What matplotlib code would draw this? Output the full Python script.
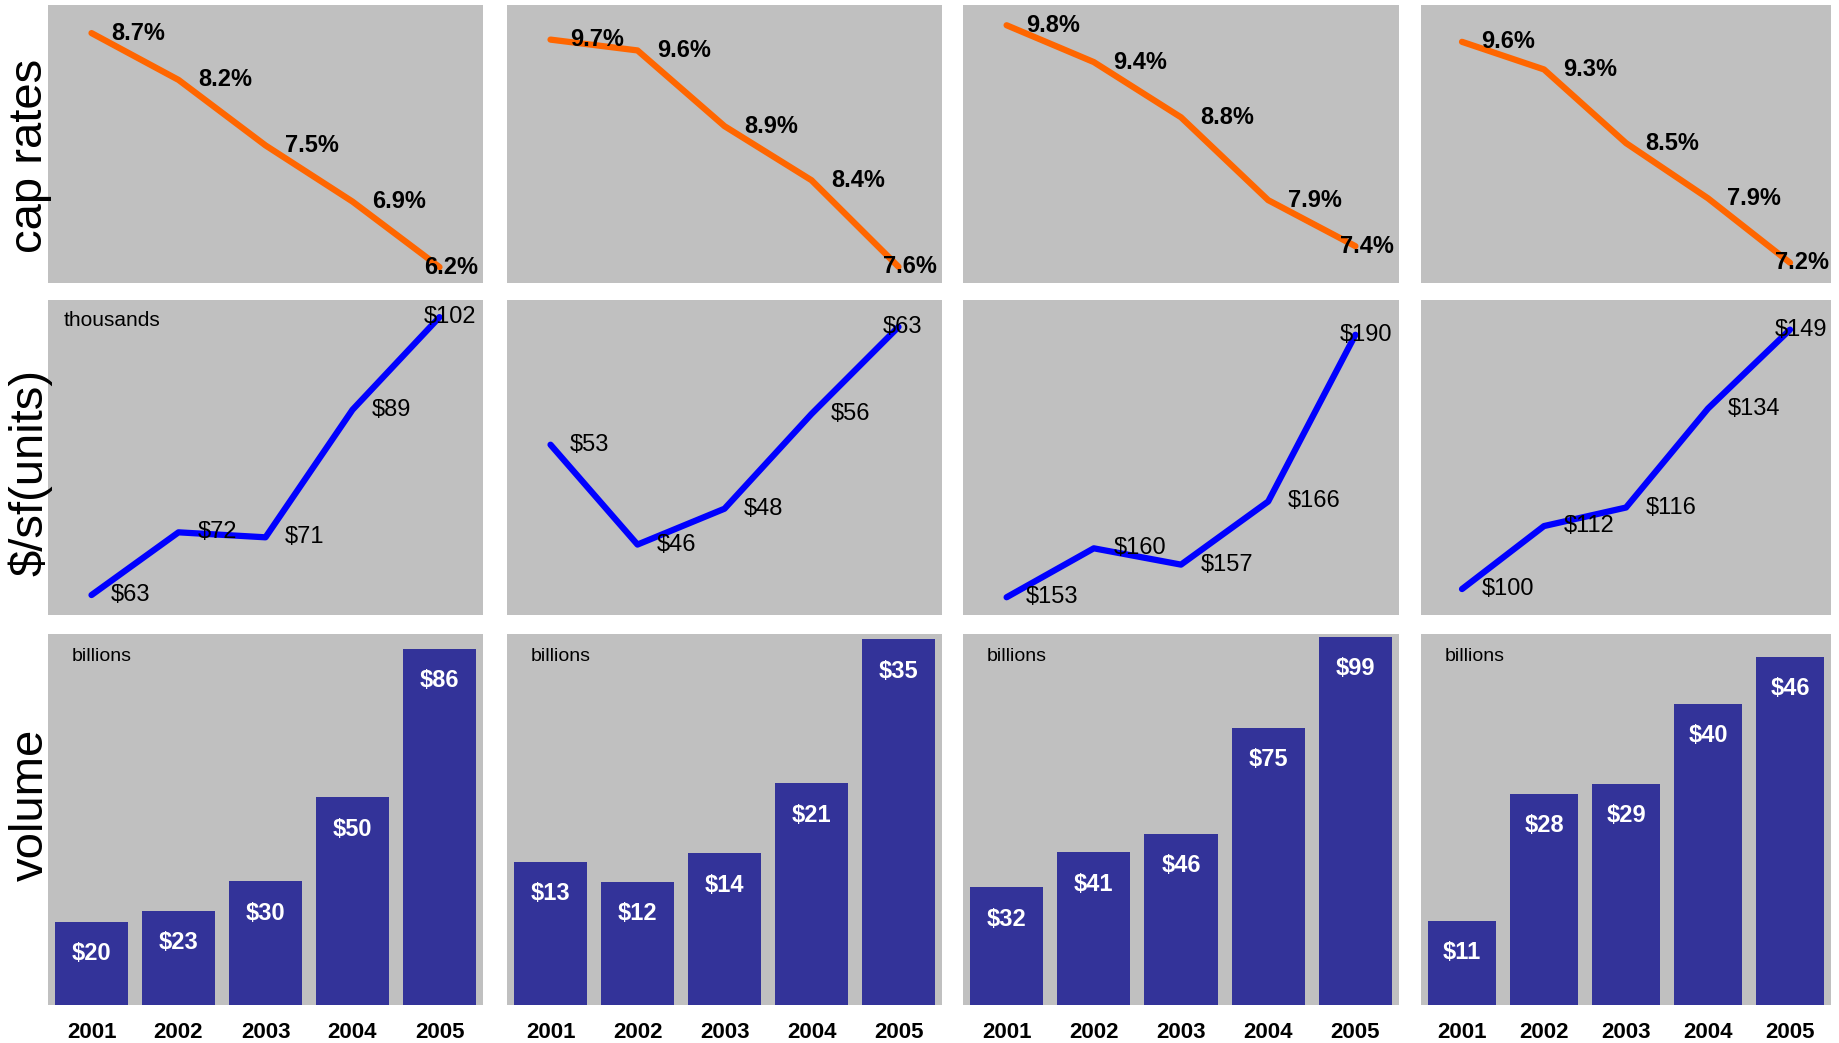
import matplotlib.pyplot as plt

plt.rcParams['font.family'] = ['Liberation Sans', 'DejaVu Sans']

# data, one list per market (4 panels per row)
years = ['2001', '2002', '2003', '2004', '2005']

cap_rates = [
    [8.7, 8.2, 7.5, 6.9, 6.2],
    [9.7, 9.6, 8.9, 8.4, 7.6],
    [9.8, 9.4, 8.8, 7.9, 7.4],
    [9.6, 9.3, 8.5, 7.9, 7.2],
]

prices = [
    [63, 71.8, 71.1, 89, 102],
    [53.8, 46, 48.8, 56.2, 63],
    [153, 159.9, 157.6, 166.5, 190],
    [100, 111.9, 115.4, 134.1, 149],
]
price_labels = [
    ['$63', '$72', '$71', '$89', '$102'],
    ['$53', '$46', '$48', '$56', '$63'],
    ['$153', '$160', '$157', '$166', '$190'],
    ['$100', '$112', '$116', '$134', '$149'],
]

volumes = [
    [20.1, 22.8, 29.9, 50.2, 86],
    [13.7, 11.8, 14.5, 21.2, 35],
    [31.7, 41.1, 46, 74.5, 99],
    [11.1, 27.9, 29.2, 39.8, 46],
]
volume_labels = [
    ['$20', '$23', '$30', '$50', '$86'],
    ['$13', '$12', '$14', '$21', '$35'],
    ['$32', '$41', '$46', '$75', '$99'],
    ['$11', '$28', '$29', '$40', '$46'],
]

# axis ranges per panel
cap_ylim = [(6.03, 9.0), (7.45, 10.02), (7.0, 10.02), (6.98, 10.0)]
price_ylim = [(60.2, 104.4), (40.5, 65.1), (150.5, 194.9), (95.1, 154.6)]
vol_ylim = [(0, 89.6), (0, 35.5), (0, 99.8), (0, 49.0)]

row_names = ['cap rates', '$/sf(units)', 'volume']

W, H = 1839, 1043
col_left = [48, 507, 963, 1421]
col_width = [435, 435, 436, 410]
row_top = [5, 300, 634]
row_bot = [283, 615, 1005]

BG = '#C0C0C0'
ORANGE = '#FF6600'
BLUE = '#0000FF'
BAR = '#333399'

fig = plt.figure(figsize=(W / 100, H / 100), dpi=100)


def panel(r, c):
    rect = [col_left[c] / W, 1 - row_bot[r] / H,
            col_width[c] / W, (row_bot[r] - row_top[r]) / H]
    ax = fig.add_axes(rect)
    ax.set_facecolor(BG)
    for s in ax.spines.values():
        s.set_visible(False)
    ax.set_xlim(-0.5, 4.5)
    ax.set_yticks([])
    ax.set_xticks([])
    return ax


def point_labels(ax, xs, ys, labels, weight):
    for i, (xv, yv, lab) in enumerate(zip(xs, ys, labels)):
        dx = -11 if i == len(xs) - 1 else 14
        ax.annotate(lab, (xv, yv), xytext=(dx, 0), textcoords='offset points',
                    ha='left', va='center', fontsize=17, fontweight=weight,
                    color='black')


x = list(range(len(years)))

for c in range(4):
    # cap rates
    ax = panel(0, c)
    ax.plot(x, cap_rates[c], color=ORANGE, lw=4.5, solid_capstyle='round')
    ax.set_ylim(*cap_ylim[c])
    point_labels(ax, x, cap_rates[c], [f'{v}%' for v in cap_rates[c]], 'bold')

    # price per sf / unit
    ax = panel(1, c)
    ax.plot(x, prices[c], color=BLUE, lw=4.5, solid_capstyle='round')
    ax.set_ylim(*price_ylim[c])
    point_labels(ax, x, prices[c], price_labels[c], 'normal')
    if c == 0:
        ax.annotate('thousands', (0, 1), xytext=(11, -15),
                    xycoords='axes fraction', textcoords='offset points',
                    ha='left', va='center', fontsize=15)

    # volume
    ax = panel(2, c)
    bars = ax.bar(x, volumes[c], width=0.84, color=BAR)
    ax.set_ylim(*vol_ylim[c])
    for b, lab in zip(bars, volume_labels[c]):
        ax.annotate(lab, (b.get_x() + b.get_width() / 2, b.get_height()),
                    xytext=(0, -23), textcoords='offset points',
                    ha='center', va='center', fontsize=17, fontweight='bold',
                    color='white')
    ax.annotate('billions', (0, 1), xytext=(17, -16),
                xycoords='axes fraction', textcoords='offset points',
                ha='left', va='center', fontsize=14)
    ax.set_xticks(x, years)
    ax.tick_params(axis='x', length=0, pad=12, labelsize=16)
    for t in ax.get_xticklabels():
        t.set_fontweight('bold')

# row titles
row_baseline = [42, 42, 43]
row_center = [156, 473, 805]
for name, bx, cy in zip(row_names, row_baseline, row_center):
    fig.text(bx / W, 1 - cy / H, name, rotation=90, rotation_mode='anchor',
             ha='center', va='baseline', fontsize=34)

fig.savefig('out.png', dpi=100)
